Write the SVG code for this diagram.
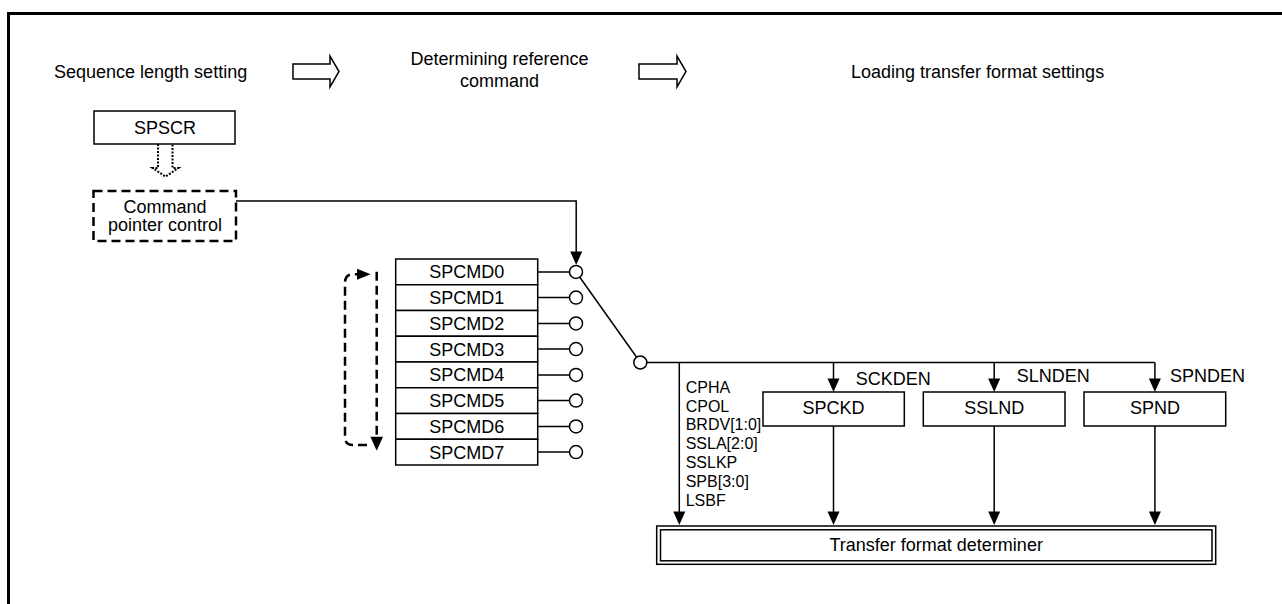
<svg xmlns="http://www.w3.org/2000/svg" width="1282" height="604" viewBox="0 0 1282 604">
<style>
text{font-family:"Liberation Sans",Arial,sans-serif;font-size:18px;fill:#000}
.c{text-anchor:middle}
.sm{font-size:16px}
.box{fill:#fff;stroke:#000;stroke-width:1.5}
.ln{fill:none;stroke:#000;stroke-width:1.5}
.dash{fill:none;stroke:#000;stroke-width:2.5;stroke-dasharray:9 5}
.hd{fill:#000;stroke:none}
.circ{fill:#fff;stroke:#000;stroke-width:1.5}
</style>
<defs>
<marker id="ah" markerWidth="13" markerHeight="12" refX="13" refY="6" orient="auto" markerUnits="userSpaceOnUse">
<path d="M0,0 L13,6 L0,12 Z" fill="#000"/>
</marker>
</defs>
<rect width="1282" height="604" fill="#fff"/>
<path d="M8.5,604 V13.5 H1282" fill="none" stroke="#000" stroke-width="3"/>

<g id="stage-labels">
<text x="54" y="78">Sequence length setting</text>
<text x="499.5" y="65" class="c">Determining reference</text>
<text x="499.5" y="87" class="c">command</text>
<text x="851" y="78">Loading transfer format settings</text>
<path d="M293,64 H330 V56 L339,71.5 L330,87 V79 H293 Z" class="ln"/>
<path d="M639,64 H677 V56 L686,71.5 L677,87 V79 H639 Z" class="ln"/>
</g>

<g id="spscr">
<rect x="94" y="111" width="141" height="33" class="box"/>
<text x="165" y="133.5" class="c">SPSCR</text>
</g>

<g id="cmd-pointer">
<rect x="93.5" y="191" width="142.5" height="50" class="dash" fill="#fff"/>
<text x="165" y="212.5" class="c">Command</text>
<text x="165" y="230.5" class="c">pointer control</text>
</g>

<g id="spcmd">
<rect x="395.7" y="259" width="142" height="25.75" class="box"/>
<rect x="395.7" y="284.75" width="142" height="25.75" class="box"/>
<rect x="395.7" y="310.5" width="142" height="25.75" class="box"/>
<rect x="395.7" y="336.25" width="142" height="25.75" class="box"/>
<rect x="395.7" y="362" width="142" height="25.75" class="box"/>
<rect x="395.7" y="387.75" width="142" height="25.75" class="box"/>
<rect x="395.7" y="413.5" width="142" height="25.75" class="box"/>
<rect x="395.7" y="439.25" width="142" height="25.75" class="box"/>
<text x="466.7" y="278.3" class="c">SPCMD0</text>
<text x="466.7" y="304" class="c">SPCMD1</text>
<text x="466.7" y="329.8" class="c">SPCMD2</text>
<text x="466.7" y="355.5" class="c">SPCMD3</text>
<text x="466.7" y="381.3" class="c">SPCMD4</text>
<text x="466.7" y="407" class="c">SPCMD5</text>
<text x="466.7" y="432.8" class="c">SPCMD6</text>
<text x="466.7" y="458.5" class="c">SPCMD7</text>
</g>

<g id="spckd">
<rect x="763" y="392" width="141.3" height="34" class="box"/>
<text x="833.5" y="414.3" class="c">SPCKD</text>
</g>
<g id="sslnd">
<rect x="923.3" y="392" width="141.7" height="34" class="box"/>
<text x="994.2" y="414.3" class="c">SSLND</text>
</g>
<g id="spnd">
<rect x="1084" y="392" width="141.7" height="34" class="box"/>
<text x="1154.9" y="414.3" class="c">SPND</text>
</g>

<g id="determiner">
<rect x="656.7" y="526" width="559" height="38.3" class="box"/>
<rect x="660.5" y="529.8" width="551.5" height="31" class="ln"/>
<text x="936.2" y="551" class="c">Transfer format determiner</text>
</g>

<g id="connectors">
<!-- dotted hollow arrow SPSCR -> command pointer -->
<path d="M158,144 V168 H152.7 L165.5,176.7 L178.3,168 H172.5 V144" fill="none" stroke="#000" stroke-width="2" stroke-dasharray="2 1.5"/>
<!-- command pointer to switch -->
<path d="M236,201 H576.2 V252" class="ln"/>
<path d="M570.2,251.5 L582.2,251.5 L576.2,265 Z" class="hd"/>
<!-- SPCMD to contacts -->
<path d="M537.7,271.9 H569.5 M537.7,297.6 H569.5 M537.7,323.4 H569.5 M537.7,349.1 H569.5 M537.7,374.9 H569.5 M537.7,400.6 H569.5 M537.7,426.4 H569.5 M537.7,452.1 H569.5" class="ln"/>
<circle cx="576" cy="271.9" r="6.5" class="circ"/>
<circle cx="576" cy="297.6" r="6.5" class="circ"/>
<circle cx="576" cy="323.4" r="6.5" class="circ"/>
<circle cx="576" cy="349.1" r="6.5" class="circ"/>
<circle cx="576" cy="374.9" r="6.5" class="circ"/>
<circle cx="576" cy="400.6" r="6.5" class="circ"/>
<circle cx="576" cy="426.4" r="6.5" class="circ"/>
<circle cx="576" cy="452.1" r="6.5" class="circ"/>
<!-- switch blade -->
<path d="M579.8,277.2 L636.5,357" class="ln"/>
<circle cx="640.3" cy="362.5" r="6.5" class="circ"/>
<!-- bus -->
<path d="M646.8,362.5 H1154.9" class="ln"/>
<path d="M679.3,362.5 V512" class="ln"/>
<path d="M673.3,511.5 L685.3,511.5 L679.3,525 Z" class="hd"/>
<path d="M833.5,362.5 V379" class="ln"/>
<path d="M827.5,378.5 L839.5,378.5 L833.5,392 Z" class="hd"/>
<path d="M994.2,362.5 V379" class="ln"/>
<path d="M988.2,378.5 L1000.2,378.5 L994.2,392 Z" class="hd"/>
<path d="M1154.9,362.5 V379" class="ln"/>
<path d="M1148.9,378.5 L1160.9,378.5 L1154.9,392 Z" class="hd"/>
<path d="M833.5,426 V512 M994.2,426 V512 M1154.9,426 V512" class="ln"/>
<path d="M827.5,511.5 L839.5,511.5 L833.5,525 Z" class="hd"/>
<path d="M988.2,511.5 L1000.2,511.5 L994.2,525 Z" class="hd"/>
<path d="M1148.9,511.5 L1160.9,511.5 L1154.9,525 Z" class="hd"/>
<!-- dashed loop -->
<path d="M367,445 H353 Q345,445 345,437 V283 Q345,274.3 353,274.3 H358" class="dash"/>
<path d="M357,268.8 L370.7,274.3 L357,279.8 Z" class="hd"/>
<path d="M376.7,271.7 V437" class="dash"/>
<path d="M370.4,436.7 L383,436.7 L376.7,450.7 Z" class="hd"/>
</g>

<g id="signal-labels">
<text x="855.7" y="384.5">SCKDEN</text>
<text x="1016.7" y="382">SLNDEN</text>
<text x="1170" y="382">SPNDEN</text>
<text x="685.7" y="392.6" class="sm">CPHA</text>
<text x="685.7" y="411.5" class="sm">CPOL</text>
<text x="685.7" y="430.4" class="sm">BRDV[1:0]</text>
<text x="685.7" y="449.3" class="sm">SSLA[2:0]</text>
<text x="685.7" y="468.2" class="sm">SSLKP</text>
<text x="685.7" y="487.1" class="sm">SPB[3:0]</text>
<text x="685.7" y="506" class="sm">LSBF</text>
</g>
</svg>
